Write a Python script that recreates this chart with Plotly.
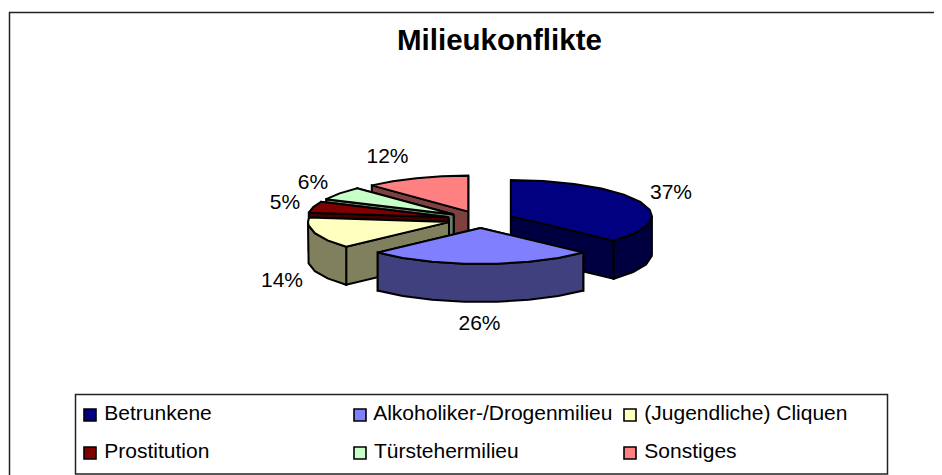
import numpy as np
import plotly.graph_objects as go

categories = ["Betrunkene", "Alkoholiker-/Drogenmilieu", "(Jugendliche) Cliquen",
              "Prostitution", "Türstehermilieu", "Sonstiges"]
values = [37, 26, 14, 5, 6, 12]
top_colors = ["#000080", "#8080FF", "#FFFFC0", "#800000", "#C8FFC8", "#FF8080"]
side_colors = ["#000040", "#40407F", "#80805F", "#400000", "#647F64", "#7F4040"]
labels = ["37%", "26%", "14%", "5%", "6%", "12%"]
label_pos = [(671, 194), (479.5, 325), (282, 282), (285, 204), (313, 184), (387.5, 158)]
legend_x = [90, 360, 630, 90, 360, 630]
legend_y = [415, 415, 415, 453, 453, 453]

CX, CY, RX, RY, DEPTH, PULL = 480.5, 219.5, 141, 36, 38, 0.235
STEP = 14.0

fig = go.Figure()


def poly(xs, ys, color):
    fig.add_trace(go.Scatter(x=xs, y=ys, mode="lines", fill="toself", fillcolor=color,
                             line=dict(color="black", width=2), hoverinfo="skip",
                             showlegend=False))


cum = np.cumsum([0] + values) / sum(values) * 2 * np.pi
slices = []
for i in range(len(values)):
    a0, a1 = cum[i], cum[i + 1]
    mid = (a0 + a1) / 2
    ax = CX + PULL * RX * np.sin(mid)
    ay = CY - PULL * RY * np.cos(mid)
    n = max(2, int(np.ceil(np.degrees(a1 - a0) / STEP)) + 1)
    t = np.linspace(a0, a1, n)
    # make sure the silhouette points at 3 and 9 o'clock are part of the outline
    extra = [q for q in (np.pi / 2, 1.5 * np.pi) if a0 < q < a1]
    t = np.sort(np.concatenate([t, extra]))
    slices.append((i, ax, ay, ax + RX * np.sin(t), ay - RY * np.cos(t), t))

# painter's order: far slices first, near slices last
order = [5, 4, 3, 2, 0, 1]
for i, ax, ay, ox, oy, t in [slices[k] for k in order]:
    side = side_colors[i]
    # cut faces, the one further back first
    ends = sorted([(ox[0], oy[0]), (ox[-1], oy[-1])], key=lambda e: e[1])
    for ex, ey in ends:
        poly([ax, ex, ex, ax, ax], [ay, ey, ey + DEPTH, ay + DEPTH, ay], side)
    # front wall
    front = np.cos(t) <= 1e-9
    if front.sum() >= 2:
        fx, fy = ox[front], oy[front]
        poly(list(fx) + list(fx[::-1]) + [fx[0]],
             list(fy) + list(fy[::-1] + DEPTH) + [fy[0]], side)
    # top face
    poly([ax] + list(ox) + [ax], [ay] + list(oy) + [ay], top_colors[i])

fig.add_trace(go.Scatter(x=[p[0] for p in label_pos], y=[p[1] for p in label_pos], mode="text",
                         text=labels, textposition="middle center",
                         textfont=dict(family="Liberation Sans", size=21, color="black"),
                         hoverinfo="skip", showlegend=False))

for i, c in enumerate(categories):
    fig.add_trace(go.Scatter(x=[legend_x[i]], y=[legend_y[i]], mode="markers+text", name=c,
                             text=[" " + c], textposition="middle right",
                             textfont=dict(family="Liberation Sans", size=21, color="black"),
                             marker=dict(symbol="square", size=12, color=top_colors[i],
                                         line=dict(color="black", width=1.6)),
                             hoverinfo="name", showlegend=False))

frame = dict(type="rect", xref="x", yref="y", line=dict(color="#222222", width=1.5), layer="below")
# the page body has an 8 px margin, so the plot area starts at page pixel 8
fig.update_layout(
    width=934, height=467, margin=dict(l=0, r=0, t=0, b=0),
    paper_bgcolor="white", plot_bgcolor="white",
    xaxis=dict(range=[8, 942], visible=False, fixedrange=True),
    yaxis=dict(range=[475, 8], visible=False, fixedrange=True),
    shapes=[dict(frame, x0=9.5, y0=12.5, x1=960, y1=490),
            dict(frame, x0=75.5, y0=394.5, x1=887.5, y1=474)],
    annotations=[dict(text="<b>Milieukonflikte</b>", x=499.5, y=39, xref="x", yref="y",
                      showarrow=False, font=dict(family="Liberation Sans", size=29.5, color="black"))],
)
fig.write_html("out.html")
